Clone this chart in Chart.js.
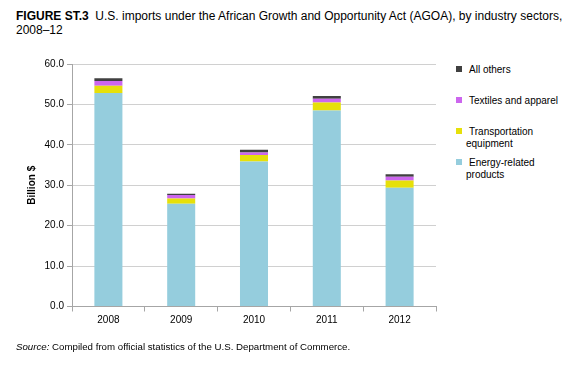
<!DOCTYPE html>
<html lang="en">
<head>
    <meta charset="UTF-8">
    <title>AGOA imports by industry sector</title>
    <script src="https://cdn.jsdelivr.net/npm/chart.js"></script>
    <style>
        body { margin: 0; width: 584px; height: 374px; background: #fff; font-family: "Liberation Sans", Arial, sans-serif; color: #000; position: relative; overflow: hidden; }
        #titulo { position: absolute; left: 16px; top: 9px; font-size: 12px; line-height: 14px; }
        #fuente { position: absolute; left: 16px; top: 341px; font-size: 9.7px; }
        #wrap { position: absolute; left: 0; top: 50px; width: 440px; height: 300px; }
        #leyenda { position: absolute; left: 456px; top: 64px; font-size: 10px; line-height: 12px; }
        .item { position: absolute; left: 0; white-space: nowrap; }
        .sq { display: inline-block; width: 6px; height: 6px; margin-right: 7px; vertical-align: 1px; }
        .l2 { padding-left: 10px; }
    </style>
</head>
<body>
    <div id="titulo"><b>FIGURE ST.3</b>&nbsp; U.S. imports under the African Growth and Opportunity Act (AGOA), by industry sectors,<br>2008–12</div>
    <div id="wrap"><canvas id="grafica"></canvas></div>
    <div id="leyenda"></div>
    <div id="fuente"><i>Source:</i> Compiled from official statistics of the U.S. Department of Commerce.</div>
    <script>
        // Datos (billones de dolares)
        const anios = ["2008", "2009", "2010", "2011", "2012"];
        const energia = [52.8, 25.4, 35.9, 48.5, 29.4];
        const transporte = [1.8, 1.3, 1.6, 2.0, 1.8];
        const textiles = [1.2, 0.9, 0.6, 0.9, 0.9];
        const otros = [0.7, 0.3, 0.7, 0.7, 0.6];
        const ticksY = [0, 10, 20, 30, 40, 50, 60];

        const series = [
            { label: "Energy-related products", data: energia, color: "#95cddd" },
            { label: "Transportation equipment", data: transporte, color: "#e6e00a" },
            { label: "Textiles and apparel", data: textiles, color: "#cc66ee" },
            { label: "All others", data: otros, color: "#404040" }
        ];

        // leyenda a mano (orden inverso, etiquetas en dos lineas)
        const leyendaTextos = [
            ["All others"],
            ["Textiles and apparel"],
            ["Transportation", "equipment"],
            ["Energy-related", "products"]
        ];
        const leyenda = document.getElementById("leyenda");
        leyendaTextos.forEach((lineas, i) => {
            const s = series[series.length - 1 - i];
            const div = document.createElement("div");
            div.className = "item";
            div.style.top = (i * 31) + "px";
            div.innerHTML = '<span class="sq" style="background:' + s.color + '"></span>' + lineas[0] +
                (lineas[1] ? '<div class="l2">' + lineas[1] + '</div>' : '');
            leyenda.appendChild(div);
        });

        const ctx = document.getElementById("grafica").getContext("2d");
        new Chart(ctx, {
            type: "bar",
            data: {
                labels: anios,
                datasets: series.map(s => ({
                    label: s.label,
                    data: s.data,
                    backgroundColor: s.color,
                    borderWidth: 0,
                    barPercentage: 0.77,
                    categoryPercentage: 0.5
                }))
            },
            options: {
                responsive: true,
                maintainAspectRatio: false,
                animation: false,
                layout: { padding: { top: 14, right: 4, left: 26, bottom: 0 } },
                plugins: { legend: { display: false }, tooltip: { enabled: false } },
                scales: {
                    x: {
                        stacked: true,
                        offset: true,
                        border: { color: "#a6a6a6" },
                        grid: { offset: true, drawOnChartArea: false, tickLength: 5, color: "#a6a6a6" },
                        ticks: { color: "#000", padding: 3, font: { family: "Liberation Sans", size: 10 } },
                        afterFit: s => { s.height = 43.5; }
                    },
                    y: {
                        stacked: true,
                        min: 0,
                        max: 60,
                        border: { color: "#a6a6a6" },
                        grid: { color: "#d0d0d0", tickLength: 5, tickColor: "#a6a6a6" },
                        afterBuildTicks: s => { s.ticks = ticksY.map(v => ({ value: v })); },
                        ticks: {
                            color: "#000",
                            padding: 3,
                            font: { family: "Liberation Sans", size: 10 },
                            callback: v => v.toFixed(1)
                        },
                        title: { display: true, text: "Billion $", color: "#000", padding: 0, font: { family: "Liberation Sans", size: 10, weight: "bold" } },
                        afterFit: s => { s.width = 46; }
                    }
                }
            }
        });
    </script>
</body>
</html>
